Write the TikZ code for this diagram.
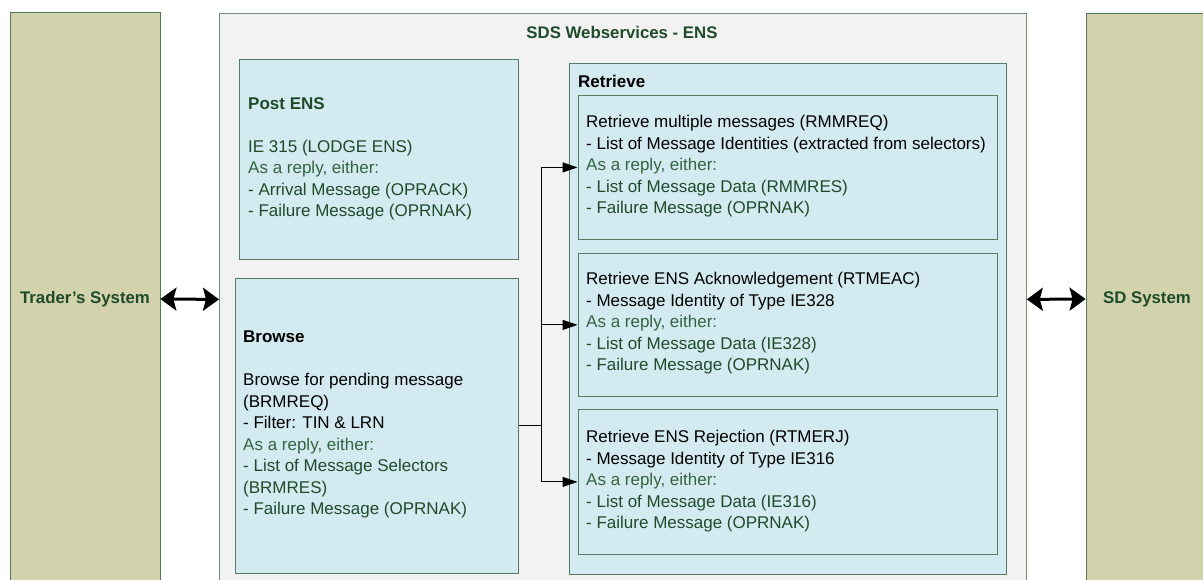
\documentclass[tikz,border=0pt]{standalone}
\usepackage{fontspec}
\setmainfont{Liberation Sans}
\usepackage{tikz}
\usetikzlibrary{arrows.meta}

\definecolor{dkgreen}{HTML}{1F4B2B}
\definecolor{replygreen}{HTML}{346441}
\definecolor{sysfill}{HTML}{D2D2AC}
\definecolor{sysline}{HTML}{4F7A55}
\definecolor{wsfill}{HTML}{F2F2F2}
\definecolor{wsline}{HTML}{6F8F78}
\definecolor{boxfill}{HTML}{D3EAF0}
\definecolor{boxline}{HTML}{557B63}

\begin{document}
\begin{tikzpicture}[x=1pt,y=-1pt,
	sysbox/.style={draw=sysline,fill=sysfill,line width=0.8pt,inner sep=0,
		font=\fontsize{16.8}{19}\selectfont\bfseries,text=dkgreen},
	wsbox/.style={draw=wsline,fill=wsfill,line width=0.8pt,anchor=north west,inner sep=0},
	opbox/.style={draw=boxline,fill=boxfill,line width=0.8pt,anchor=north west,inner sep=0},
	txt/.style={anchor=north west,inner sep=0,align=left,font=\fontsize{17}{21.5}\selectfont},
	link/.style={line width=1pt,-{Triangle[length=15pt,width=10pt]}},
	duplex/.style={line width=3pt,{Stealth[length=16pt,width=23pt,inset=3pt]}-{Stealth[length=16pt,width=23pt,inset=3pt]}}]
				\useasboundingbox (0,0) rectangle (1203,579);
				% outer systems
				\node [sysbox, minimum width=150pt, minimum height=574pt] (trader) at (85,299) {Trader's System};
				\node [sysbox, minimum width=122pt, minimum height=572pt] (sd) at (1147,299) {SD System};
				% webservices frame
				\node [wsbox, minimum width=807pt, minimum height=572pt] (ws) at (219,13) {};
				\node [anchor=north, inner sep=0, font=\fontsize{16.8}{19}\selectfont\bfseries, text=dkgreen] (title) at (622,26) {SDS Webservices - ENS};
				% post ENS
				\node [opbox, minimum width=279pt, minimum height=200pt] (post) at (239,59) {};
				\node [txt, text=dkgreen] (postlbl) at (248,97) {\textbf{Post ENS}\\[21.5pt]
					IE 315 (LODGE ENS)\\
					\textcolor{replygreen}{As a reply, either:}\\
					- Arrival Message (OPRACK)\\
					- Failure Message (OPRNAK)};
				% browse
				\node [opbox, minimum width=283pt, minimum height=295pt] (browse) at (235,278) {};
				\node [txt] (browselbl) at (243,331) {\textbf{Browse}\\[21.5pt]
					Browse for pending message\\
					(BRMREQ)\\
					- Filter: TIN \& LRN\\
					\textcolor{replygreen}{As a reply, either:}\\
					\textcolor{dkgreen}{- List of Message Selectors}\\
					\textcolor{dkgreen}{(BRMRES)}\\
					\textcolor{dkgreen}{- Failure Message (OPRNAK)}};
				% retrieve
				\node [opbox, minimum width=437pt, minimum height=511pt] (retr) at (568.5,62.5) {};
				\node [txt, font=\fontsize{17}{19}\selectfont\bfseries] (retrlbl) at (578,75) {Retrieve};
				\node [opbox, minimum width=419pt, minimum height=144pt] (rmm) at (577.5,95) {};
				\node [opbox, minimum width=419pt, minimum height=143pt] (rtmeac) at (577.5,253) {};
				\node [opbox, minimum width=419pt, minimum height=145pt] (rtmerj) at (577.5,409) {};
				\node [txt] (rmmlbl) at (586,115) {Retrieve multiple messages (RMMREQ)\\
					- List of Message Identities (extracted from selectors)\\
					\textcolor{replygreen}{As a reply, either:}\\
					\textcolor{dkgreen}{- List of Message Data (RMMRES)}\\
					\textcolor{dkgreen}{- Failure Message (OPRNAK)}};
				\node [txt] (rtmeaclbl) at (586,272) {Retrieve ENS Acknowledgement (RTMEAC)\\
					- Message Identity of Type IE328\\
					\textcolor{replygreen}{As a reply, either:}\\
					\textcolor{dkgreen}{- List of Message Data (IE328)}\\
					\textcolor{dkgreen}{- Failure Message (OPRNAK)}};
				\node [txt] (rtmerjlbl) at (586,430) {Retrieve ENS Rejection (RTMERJ)\\
					- Message Identity of Type IE316\\
					\textcolor{replygreen}{As a reply, either:}\\
					\textcolor{dkgreen}{- List of Message Data (IE316)}\\
					\textcolor{dkgreen}{- Failure Message (OPRNAK)}};
				% connectors
				\coordinate (fork) at ([xshift=22.5pt]browse.east);
				\draw [line width=1pt] (browse.east) -- (fork);
				\draw [link] (fork) |- (rmm.west);
				\draw [link] (fork) |- (rtmeac.west);
				\draw [link] (fork) |- (rtmerj.west);
				\draw [duplex] (trader.east) -- (ws.west);
				\draw [duplex] (ws.east) -- (sd.west);
\end{tikzpicture}
\end{document}
